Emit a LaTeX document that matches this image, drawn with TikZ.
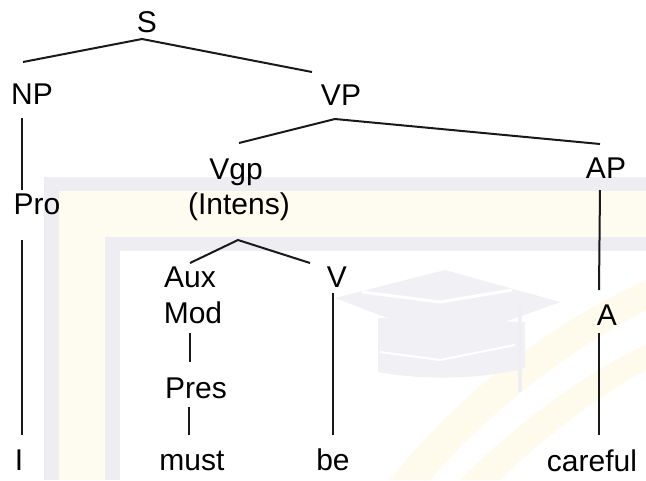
\documentclass[tikz,border=0pt]{standalone}
\usepackage{fontspec}
\setmainfont{Liberation Sans}
\begin{document}
\begin{tikzpicture}[x=1pt,y=-1pt,
  lbl/.style={anchor=base,inner sep=0pt,font=\fontsize{30}{35}\selectfont},
  branch/.style={line width=2pt,black!90},
  wmgray/.style={fill={rgb,255:red,237;green,237;blue,242}},
  wmcream/.style={fill={rgb,255:red,254;green,252;blue,240}},
  wmcap/.style={fill={rgb,255:red,241;green,241;blue,245}},
  wmleaf/.style={fill={rgb,255:red,254;green,250;blue,236}}]
\useasboundingbox (0,0) rectangle (646,480);
\fill[white] (0,0) rectangle (646,480);

% faint background frame
\fill[wmgray]  (44,177)  rectangle (646,480);
\fill[wmcream] (59,191)  rectangle (646,480);
\fill[wmgray]  (105,237) rectangle (646,480);
\fill[white]   (120,251) rectangle (646,480);

% faint feather strokes
\fill[wmleaf] (390,480) .. controls (470,380) and (560,320) .. (646,280)
  -- (646,310) .. controls (570,350) and (490,410) .. (430,480) -- cycle;
\fill[wmleaf] (460,480) .. controls (520,420) and (590,370) .. (646,345)
  -- (646,370) .. controls (600,395) and (540,440) .. (500,480) -- cycle;

% faint mortarboard
\fill[wmcap] (378,318) -- (525,322) -- (525,368) .. controls (480,380) and (420,380) .. (378,372) -- cycle;
\fill[wmcap] (335,298) -- (445,270) -- (560,302) -- (450,342) -- cycle;
\draw[white,line width=3pt] (362,292) -- (440,302) -- (512,290);
\draw[white,line width=2pt] (380,352) -- (440,360) -- (515,345);
\draw[draw={rgb,255:red,238;green,238;blue,243},line width=4pt] (520,305) -- (520,392);

% tree labels
\node[lbl] (S)      at (147,32)  {S};
\node[lbl] (NP)     at (32,104)  {NP};
\node[lbl] (VP)     at (341,105) {VP};
\node[lbl] (Vgp)    at (236,179) {Vgp};
\node[lbl] (Intens) at (239,214) {(Intens)};
\node[lbl] (AP)     at (606,178) {AP};
\node[lbl] (Pro)    at (37,214)  {Pro};
\node[lbl] (Aux)    at (190,287) {Aux};
\node[lbl] (Mod)    at (193,323) {Mod};
\node[lbl] (V)      at (337,287) {V};
\node[lbl] (A)      at (607,325) {A};
\node[lbl] (Pres)   at (196,398) {Pres};
\node[lbl] (I)      at (19,470)  {I};
\node[lbl] (must)   at (192,470) {must};
\node[lbl] (be)     at (333,470) {be};
\node[lbl] (careful) at (592,471) {careful};

% branches
\draw[branch] ([shift={(-9,-42)}]NP.base) -- ([shift={(-5,7)}]S.base) -- ([shift={(-29,-33)}]VP.base);
\draw[branch] ([shift={(3,-36)}]Vgp.base) -- ([shift={(-6,14)}]VP.base) -- ([shift={(-6,-34)}]AP.base);
\draw[branch] ([shift={(-10,14)}]NP.base) -- ([shift={(-15,-24)}]Pro.base);
\draw[branch] ([shift={(-15,26)}]Pro.base) -- ([shift={(3,-35)}]I.base);
\draw[branch] ([shift={(-6,12)}]AP.base) -- ([shift={(-8,-35)}]A.base);
\draw[branch] ([shift={(-8,8)}]A.base) -- ([shift={(7,-36)}]careful.base);
\draw[branch] ([shift={(0,-24)}]Aux.base) -- ([shift={(-1,26)}]Intens.base) -- ([shift={(-27,-24)}]V.base);
\draw[branch] ([shift={(-4,6)}]V.base) -- ([shift={(0,-35)}]be.base);
\draw[branch] ([shift={(-3,10)}]Mod.base) -- ([shift={(-6,-36)}]Pres.base);
\draw[branch] ([shift={(-7,9)}]Pres.base) -- ([shift={(-3,-35)}]must.base);
\end{tikzpicture}
\end{document}
